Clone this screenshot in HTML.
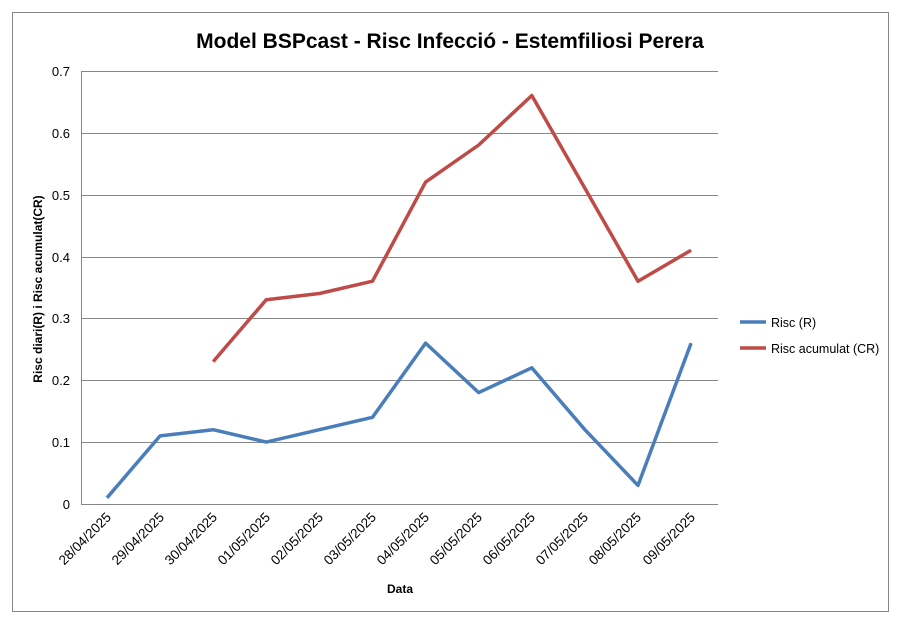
<!DOCTYPE html>
<html><head><meta charset="utf-8"><style>
body{margin:0;background:#fff;}
svg{display:block;font-family:"Liberation Sans",Arial,sans-serif;}
</style></head><body>
<svg width="898" height="620" viewBox="0 0 898 620">
<rect x="0" y="0" width="898" height="620" fill="#fff"/>
<rect x="12.5" y="12.5" width="876" height="599" fill="#fff" stroke="#868686" stroke-width="1"/>
<text x="450" y="48" text-anchor="middle" font-size="21" font-weight="bold" fill="#000">Model BSPcast - Risc Infecció - Estemfiliosi Perera</text>
<g stroke="#868686" stroke-width="1">
<line x1="81" y1="71.5" x2="718" y2="71.5"/>
<line x1="81" y1="133.5" x2="718" y2="133.5"/>
<line x1="81" y1="195.5" x2="718" y2="195.5"/>
<line x1="81" y1="257.5" x2="718" y2="257.5"/>
<line x1="81" y1="318.5" x2="718" y2="318.5"/>
<line x1="81" y1="380.5" x2="718" y2="380.5"/>
<line x1="81" y1="442.5" x2="718" y2="442.5"/>
<line x1="81" y1="504.5" x2="718" y2="504.5"/>
<line x1="81.5" y1="71" x2="81.5" y2="505"/>
</g>
<g font-size="13" fill="#000" text-anchor="end">
<text x="70" y="76">0.7</text><text x="70" y="138">0.6</text><text x="70" y="200">0.5</text>
<text x="70" y="262">0.4</text><text x="70" y="323">0.3</text><text x="70" y="385">0.2</text>
<text x="70" y="447">0.1</text><text x="70" y="509">0</text>
</g>
<g font-size="13.5" fill="#000" text-anchor="end">
<text transform="translate(112,518) rotate(-45)">28/04/2025</text>
<text transform="translate(165,518) rotate(-45)">29/04/2025</text>
<text transform="translate(218,518) rotate(-45)">30/04/2025</text>
<text transform="translate(271,518) rotate(-45)">01/05/2025</text>
<text transform="translate(324,518) rotate(-45)">02/05/2025</text>
<text transform="translate(377,518) rotate(-45)">03/05/2025</text>
<text transform="translate(430,518) rotate(-45)">04/05/2025</text>
<text transform="translate(483,518) rotate(-45)">05/05/2025</text>
<text transform="translate(536,518) rotate(-45)">06/05/2025</text>
<text transform="translate(589,518) rotate(-45)">07/05/2025</text>
<text transform="translate(642,518) rotate(-45)">08/05/2025</text>
<text transform="translate(696,518) rotate(-45)">09/05/2025</text>
</g>
<text x="400" y="593" text-anchor="middle" font-size="12" font-weight="bold">Data</text>
<text transform="translate(42,289) rotate(-90)" text-anchor="middle" font-size="12" font-weight="bold">Risc diari(R) i Risc acumulat(CR)</text>
<polyline fill="none" stroke="#4a7ebb" stroke-width="3.5" stroke-linejoin="round" points="107,497.8 160.1,435.9 213.2,429.7 266.3,442.1 319.4,429.7 372.5,417.3 425.6,343.1 478.7,392.6 531.8,367.8 584.9,429.7 638,485.4 691.1,343.1"/>
<polyline fill="none" stroke="#be4b48" stroke-width="3.5" stroke-linejoin="round" points="213.2,361.6 266.3,299.7 319.4,293.5 372.5,281.2 425.6,182.1 478.7,145 531.8,95.5 584.9,188.3 638,281.2 691.1,250.2"/>
<line x1="740" y1="322" x2="766" y2="322" stroke="#4a7ebb" stroke-width="3.5"/>
<line x1="740" y1="348" x2="766" y2="348" stroke="#be4b48" stroke-width="3.5"/>
<text x="771" y="327" font-size="12.5">Risc (R)</text>
<text x="771" y="353" font-size="12.5">Risc acumulat (CR)</text>
</svg>
</body></html>
